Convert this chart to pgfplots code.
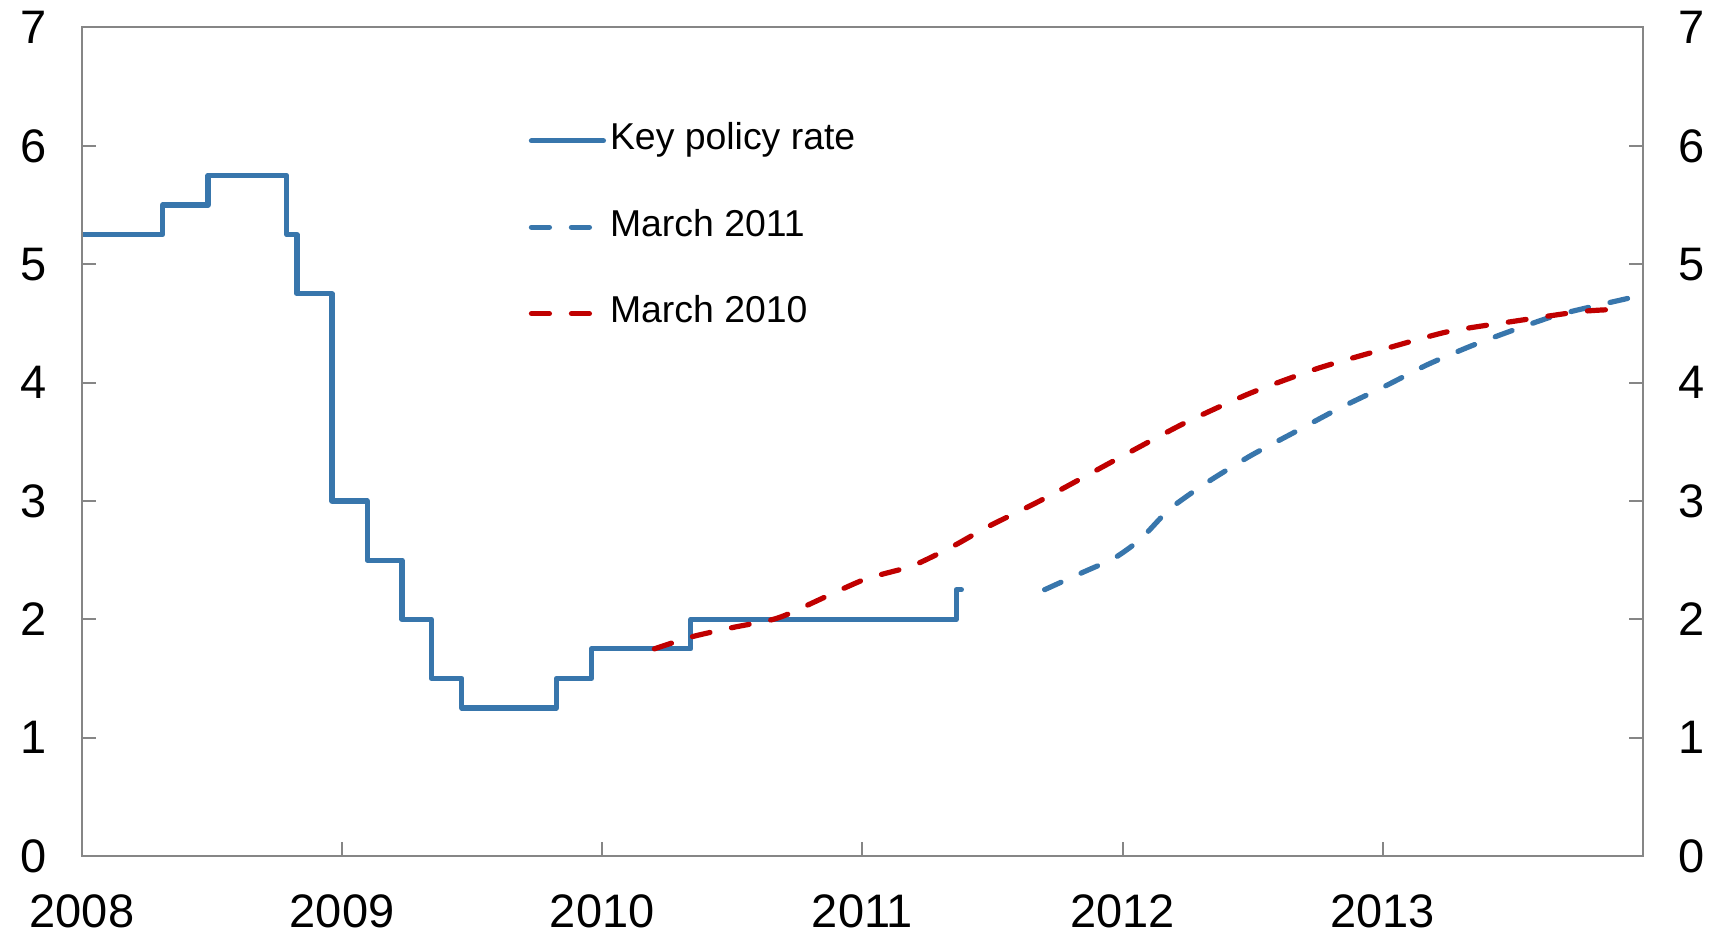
\documentclass[border=0pt]{standalone}
\usepackage{fontspec}
\setmainfont{Liberation Sans}
\usepackage{pgfplots}
\pgfplotsset{compat=1.18}

\definecolor{nbblue}{RGB}{56,118,172}
\definecolor{nbred}{RGB}{192,0,0}
\definecolor{framegray}{RGB}{134,134,134}

\pgfplotsset{
  common/.style={
    width=780.5pt, height=414.25pt,
    scale only axis,
    xmin=2008, xmax=2014,
    ymin=0, ymax=7,
    ytick={0,1,...,7},
    axis line style={framegray, line width=1pt},
    tick style={framegray, line width=1pt},
    major tick length=7pt,
    tick align=inside,
    tick label style={font=\fontsize{23.5}{27}\selectfont, /pgf/number format/assume math mode=true},
  },
}

\begin{document}
\begin{tikzpicture}
\begin{axis}[
    common,
    xtick={2008,2009,...,2013},
    xticklabels={2008,2009,2010,2011,2012,2013},
    xtick pos=bottom,
    ytick pos=left,
    xticklabel style={yshift=-16pt},
    yticklabel style={xshift=-14pt},
    legend style={
      at={(rel axis cs:0.286,0.889)}, anchor=north west,
      draw=none, fill=none, inner sep=0pt,
      font=\fontsize{18.7}{21}\selectfont,
      row sep=22.2pt,
      nodes={inner sep=2pt, text height=13pt, text depth=4pt},
    },
    legend cell align=left,
    legend image code/.code={\draw[#1] (0pt,0pt) -- (36pt,0pt);},
]

% Key policy rate (step series)
\addplot[const plot, nbblue, line width=2.6pt, line cap=round, line join=round] coordinates {
  (2008.000,5.25)
  (2008.310,5.50)
  (2008.484,5.75)
  (2008.787,5.25)
  (2008.826,4.75)
  (2008.961,3.00)
  (2009.096,2.50)
  (2009.230,2.00)
  (2009.343,1.50)
  (2009.460,1.25)
  (2009.823,1.50)
  (2009.958,1.75)
  (2010.340,2.00)
  (2011.360,2.25)
  (2011.380,2.25)
};

% March 2011 path
\addplot[nbblue, line width=2.6pt, line cap=round, dash pattern=on 9pt off 11pt, smooth, tension=0.4] coordinates {
  (2011.70,2.25)
  (2011.84,2.39)
  (2011.97,2.52)
  (2012.07,2.68)
  (2012.18,2.93)
  (2012.32,3.15)
  (2012.49,3.38)
  (2012.66,3.58)
  (2012.83,3.78)
  (2013.00,3.96)
  (2013.17,4.15)
  (2013.34,4.31)
  (2013.51,4.45)
  (2013.67,4.57)
  (2013.84,4.66)
  (2014.00,4.74)
};

% March 2010 path
\addplot[nbred, line width=2.6pt, line cap=round, dash pattern=on 9pt off 11pt, smooth, tension=0.4] coordinates {
  (2010.20,1.75)
  (2010.34,1.85)
  (2010.50,1.93)
  (2010.64,1.99)
  (2010.72,2.05)
  (2011.00,2.33)
  (2011.19,2.45)
  (2011.35,2.62)
  (2011.48,2.78)
  (2011.69,3.01)
  (2012.00,3.38)
  (2012.24,3.66)
  (2012.49,3.91)
  (2012.75,4.12)
  (2013.00,4.28)
  (2013.25,4.43)
  (2013.51,4.52)
  (2013.76,4.60)
  (2013.91,4.62)
};

\legend{Key policy rate, March 2011, March 2010}
\end{axis}

% right-hand tick labels
\begin{axis}[
    common,
    xtick=\empty,
    ytick pos=right,
    yticklabel pos=right,
    yticklabel style={xshift=14pt},
]
\end{axis}

\pgfresetboundingbox
\path[use as bounding box] ([xshift=-41pt,yshift=-40pt]current axis.south west) rectangle ([xshift=40pt,yshift=13.75pt]current axis.north east);
\end{tikzpicture}
\end{document}
